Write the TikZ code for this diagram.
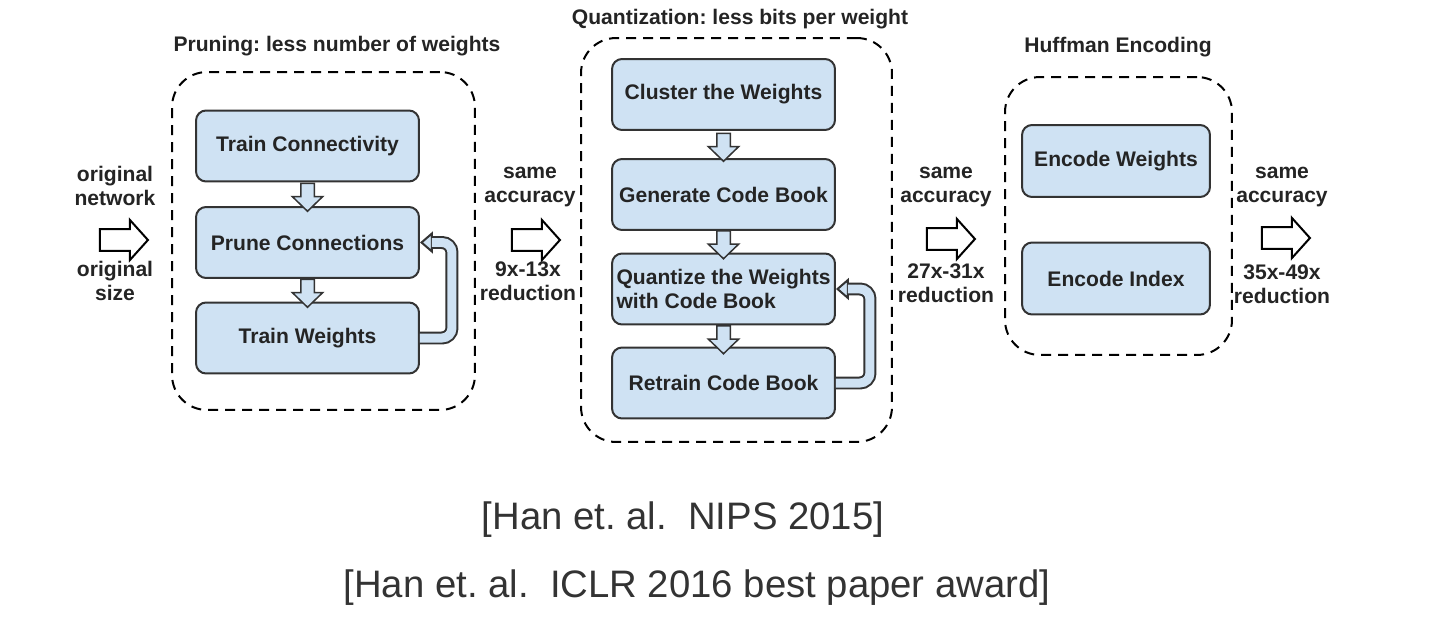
\documentclass[tikz,border=0pt]{standalone}
\usepackage{fontspec}
\setmainfont{Liberation Sans}
\usetikzlibrary{shapes.arrows,arrows.meta}
\definecolor{boxblue}{HTML}{CFE2F3}
\definecolor{ink}{HTML}{333333}
\frenchspacing
\tikzset{stage/.style = {draw = ink,line width = .04cm,fill = boxblue,rounded corners = .2cm,minimum width = 4.46cm,minimum height = 1.42cm,align = center,inner sep = 2pt,font = \bfseries\fontsize{12}{13.6}\selectfont,text = ink!70!black},
group/.style = {draw = black,line width = .04cm,dash pattern = on .2cm off .14cm,rounded corners = .7cm,minimum width = #1},
title/.style = {font = \bfseries\fontsize{12}{13.6}\selectfont,text = ink!70!black},
note/.style = {align = center,font = \bfseries\fontsize{12}{13.6}\selectfont,text = ink!70!black},
cite/.style = {font = \fontsize{21.8}{26}\selectfont,text = ink},
down/.style = {single arrow,draw = ink,line width = .03cm,fill = boxblue,inner xsep = 0pt,inner ysep = .12cm,rotate = -90,minimum height = .56cm,minimum width = .58cm,single arrow head extend = .17cm,single arrow tip angle = 92},
bigarrow/.style = {single arrow,draw = black,line width = .04cm,fill = white,inner xsep = 0pt,inner ysep = .2cm,minimum height = .96cm,minimum width = .76cm,single arrow head extend = .18cm,single arrow tip angle = 96},
backflow/.style = {draw = ink,line width = .04cm,double = boxblue,double distance = .18cm,rounded corners = .2cm},
backhead/.style = {draw = ink,line width = .04cm,-{Triangle[fill = boxblue,length = .26cm,width = .44cm]}}}

\begin{document}
\begin{tikzpicture}[x = .02cm,y = -.02cm]
\useasboundingbox (0,0) rectangle (1433,618);

\node[group = 6.06cm,minimum height = 6.76cm] (prune) at (323.5,241) {};
\node[group = 6.22cm,minimum height = 8.08cm] (quant) at (736.5,240) {};
\node[group = 4.54cm,minimum height = 5.56cm] (huff) at (1118.5,216) {};

\node[title] (tp) at (337,46) {Pruning: less number of weights};
\node[title] (tq) at (740,19) {Quantization: less bits per weight};
\node[title] (th) at (1118,47) {Huffman Encoding};

\node[stage] (tc) at (307.5,146) {Train Connectivity};
\node[stage] (pc) at (307.5,242.5) {Prune Connections};
\node[stage] (tw) at (307.5,338) {Train Weights};

\node[stage] (cw) at (723.5,94.5) {Cluster the Weights};
\node[stage] (gc) at (723.5,194.5) {Generate Code Book};
\node[stage,align = left] (qw) at (723.5,289) {Quantize the Weights\\with Code Book};
\node[stage] (rc) at (723.5,383) {Retrain Code Book};

\node[stage,minimum width = 3.76cm,minimum height = 1.44cm] (ew) at (1116,161) {Encode Weights};
\node[stage,minimum width = 3.76cm,minimum height = 1.44cm] (ei) at (1116,278.5) {Encode Index};

\node[down] (d1) at (307.5,194) {};
\node[down] (d2) at (307.5,290) {};
\node[down] (d3) at (723.5,144) {};
\node[down] (d4) at (723.5,241.5) {};
\node[down] (d5) at (723.5,336.5) {};

\draw[backhead] ([xshift = .26cm]pc.east) -- (pc.east);
\draw[backflow] (tw.east) -- ++(32,0) |- ([xshift = .24cm]pc.east);
\draw[backhead] ([xshift = .26cm]qw.east) -- (qw.east);
\draw[backflow] (rc.east) -- ++(34,0) |- ([xshift = .24cm]qw.east);

\node[bigarrow] (a0) at (119,240) {};
\node[bigarrow] (a1) at (531,240) {};
\node[bigarrow] (a2) at (946,239) {};
\node[bigarrow] (a3) at (1281,238) {};

\node[note] (n0) at (115,186) {original\\network};
\node[note] (m0) at (115,281) {original\\size};
\node[note] (n1) at (530,187) {same\\accuracy};
\node[note] (m1) at (528,281) {9x-13x\\reduction};
\node[note] (n2) at (946,187) {same\\accuracy};
\node[note] (m2) at (946,283) {27x-31x\\reduction};
\node[note] (n3) at (1282,187) {same\\accuracy};
\node[note] (m3) at (1282,284) {35x-49x\\reduction};

\node[cite] (c1) at (683,520) {[Han et. al.\ \ NIPS 2015]};
\node[cite] (c2) at (697,588) {[Han et. al.\ \ ICLR 2016 best paper award]};
\end{tikzpicture}
\end{document}
